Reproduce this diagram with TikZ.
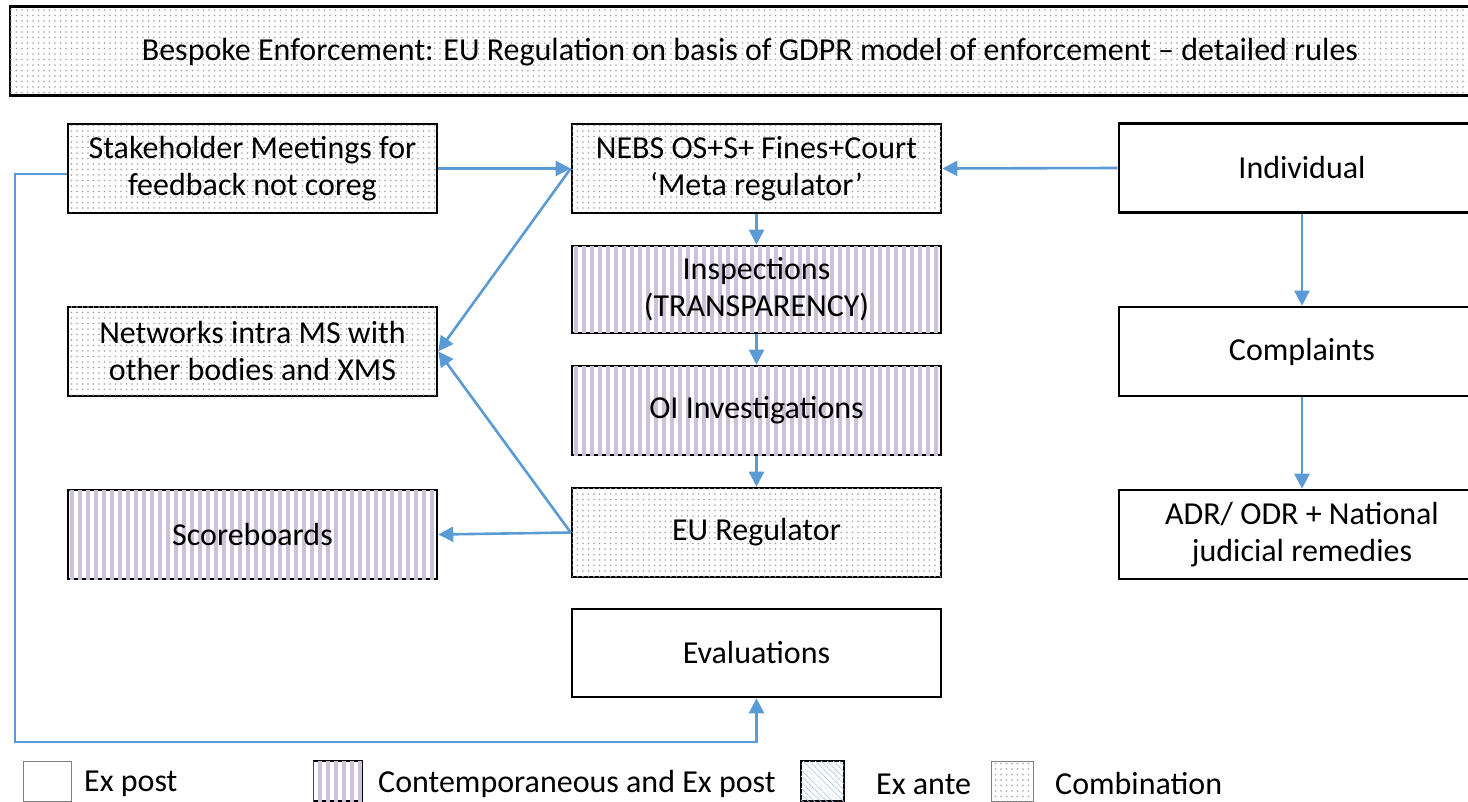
\documentclass[tikz,border=0pt]{standalone}
\usepackage{fontspec}
\setmainfont{Carlito}
\usetikzlibrary{patterns.meta,arrows.meta}
\definecolor{arrowblue}{RGB}{91,155,213}
\definecolor{lav}{RGB}{204,193,218}
\definecolor{dotgray}{RGB}{160,160,160}
\definecolor{hatchblue}{RGB}{180,205,235}
\tikzset{
  base/.style={draw=black, line width=2.6pt, minimum width=369pt, align=center, inner sep=0pt,
    font=\fontsize{32}{37}\selectfont},
  expost/.style={base, fill=white},
  combo/.style={base, fill=white, postaction={pattern={Dots[radius=0.9pt, distance=5.5pt]}, pattern color=dotgray}},
  contemp/.style={base, fill=white, postaction={pattern={Lines[angle=90, distance=8pt, line width=4pt]}, pattern color=lav}},
  arr/.style={draw=arrowblue, line width=2.6pt, -{Triangle[length=15pt,width=15pt]}},
  legtext/.style={anchor=west, inner sep=0pt, font=\fontsize{32}{37}\selectfont},
}
\begin{document}
\begin{tikzpicture}[x=1pt,y=-1pt]
\useasboundingbox (0,0) rectangle (1468,802);
\clip (0,0) rectangle (1468,802);
% title
\node[combo, minimum width=1480pt, minimum height=89pt] (title) at (750,51) {};
\node[font=\fontsize{32}{37}\selectfont, inner sep=0pt] (titletext) at (750,52) {Bespoke Enforcement: EU Regulation on basis of GDPR model of enforcement -- detailed rules};
% left column
\node[combo, minimum height=89pt] (stake) at (252.5,168.5) {Stakeholder Meetings for\\feedback not coreg};
\node[combo, minimum height=89pt] (netw) at (252.5,351.5) {Networks intra MS with\\other bodies and XMS};
\node[contemp, minimum height=89pt] (score) at (252.5,534.5) {Scoreboards};
% middle column
\node[combo, minimum height=89pt] (nebs) at (756.5,168.5) {NEBS OS+S+ Fines+Court\\‘Meta regulator’};
\node[contemp, minimum height=87pt] (insp) at (756.5,289.5) {Inspections\\(TRANSPARENCY)};
\node[contemp, minimum height=89pt] (oi) at (756.5,410.5) {OI Investigations};
\node[combo, minimum height=89pt] (eureg) at (756.5,532.5) {EU Regulator};
\node[expost, minimum height=88pt] (eval) at (756.5,653) {Evaluations};
% right column
\node[expost, minimum width=366pt, minimum height=89pt] (indiv) at (1302,168) {Individual};
\node[expost, minimum width=366pt, minimum height=89pt] (compl) at (1302,351.5) {Complaints};
\node[expost, minimum width=366pt, minimum height=89pt] (adr) at (1302,534.5) {ADR/ ODR + National\\judicial remedies};
% arrows
\draw[arr] (stake.east) -- (nebs.west);
\draw[arr] (indiv.west) -- (nebs.east);
\draw[arr] (nebs.south) -- (insp.north);
\draw[arr] (insp.south) -- (oi.north);
\draw[arr] (oi.south) -- (eureg.north);
\draw[arr] (nebs.west) -- (netw.east);
\draw[arr] (eureg.west) -- (netw.east);
\draw[arr] (eureg.west) -- (score.east);
\draw[arr] (indiv.south -| compl.north) -- (compl.north);
\draw[arr] (compl.south) -- (adr.north);
\coordinate (l1) at (15,174);
\coordinate (l2) at (15,742);
\draw[arr] ([yshift=-5.5pt]stake.west) -- (l1) -- (l2) -| (eval.south);
% legend
\node[draw=gray, line width=1pt, fill=white, minimum width=48pt, minimum height=40pt, inner sep=0pt] (lg1) at (47.5,781) {};
\node[legtext] (lt1) at (84,784) {Ex post};
\node[draw=black, line width=1.6pt, fill=white, minimum width=49pt, minimum height=40pt, inner sep=0pt,
  postaction={pattern={Lines[angle=90, distance=8pt, line width=4pt]}, pattern color=lav}] (lg2) at (338,781) {};
\node[legtext] (lt2) at (378,784) {Contemporaneous and Ex post};
\node[draw=black, line width=1.6pt, fill=white, minimum width=43pt, minimum height=40pt, inner sep=0pt,
  postaction={pattern={Lines[angle=-45, distance=4pt, line width=1pt]}, pattern color=hatchblue}] (lg3) at (822.5,781) {};
\node[legtext] (lt3) at (876,784) {Ex ante};
\node[draw=gray, line width=1pt, fill=white, minimum width=42pt, minimum height=40pt, inner sep=0pt,
  postaction={pattern={Dots[radius=0.9pt, distance=5.5pt]}, pattern color=dotgray}] (lg4) at (1012,781) {};
\node[legtext] (lt4) at (1055,784) {Combination};
\end{tikzpicture}
\end{document}
